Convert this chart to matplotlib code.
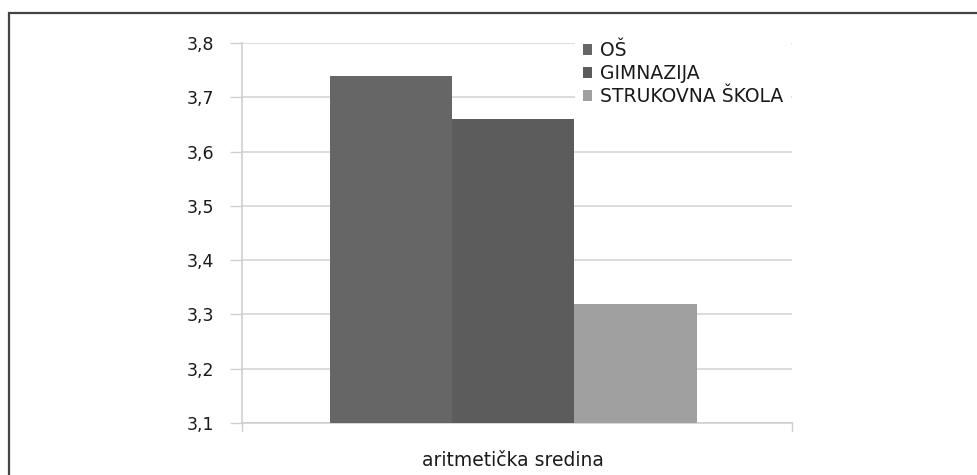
import matplotlib.pyplot as plt
from matplotlib.patches import Rectangle

# podaci
categories = ["aritmetička sredina"]
series = ["OŠ", "GIMNAZIJA", "STRUKOVNA ŠKOLA"]
values = [3.74, 3.66, 3.32]
colors = ["#666666", "#5c5c5c", "#a0a0a0"]
yticks = [3.1, 3.2, 3.3, 3.4, 3.5, 3.6, 3.7, 3.8]

plt.rcParams["font.family"] = ["DejaVu Sans"]

fig = plt.figure(figsize=(9.78, 4.75), dpi=100)
W, H = 978, 475
ax = fig.add_axes([242 / W, 1 - 423 / H, 550 / W, 380 / H])

offsets = [-1, 0, 1]
for off, name, val, col in zip(offsets, series, values, colors):
    ax.bar(off, val - 3.1, bottom=3.1, width=1.0, color=col, label=name, zorder=3)

ax.set_ylim(3.1, 3.8)
ax.set_xlim(-2.22, 2.28)
ax.set_yticks(yticks)
ax.set_yticklabels([f"{t:.1f}".replace(".", ",") for t in yticks], fontsize=12.5, color="#1a1a1a")
ax.yaxis.grid(True, color="#d6d6d6", linewidth=1.2, zorder=0)
ax.tick_params(axis="y", length=9, width=1, color="#cfcfcf", pad=11)

# oznaka kategorije ispod osi
ax.set_xticks([])
ax.text(0.0, -0.1, categories[0], transform=ax.get_xaxis_transform(), ha="center", va="center",
        fontsize=13.5, color="#1a1a1a")
for xe in ax.get_xlim():
    ax.plot([xe, xe], [0, -0.02], transform=ax.get_xaxis_transform(), color="#cfcfcf",
            lw=1, clip_on=False)

for s in ["top", "right"]:
    ax.spines[s].set_visible(False)
ax.spines["left"].set_color("#cfcfcf")
ax.spines["bottom"].set_color("#cfcfcf")
ax.spines["left"].set_linewidth(1.2)
ax.spines["bottom"].set_linewidth(1.2)

leg = ax.legend(loc="upper left", bbox_to_anchor=(575 / W, 1 - 33 / H), bbox_transform=fig.transFigure,
                frameon=True, facecolor="white", edgecolor="none", fancybox=False, framealpha=1,
                handlelength=0.5, handleheight=0.5, handletextpad=0.4, labelspacing=0.21,
                borderpad=0.43, borderaxespad=0, fontsize=13.5)
for t in leg.get_texts():
    t.set_color("#1a1a1a")
leg.set_zorder(5)

# okvir oko grafikona
fig.add_artist(Rectangle((9 / W, -0.1), 1.2, 1.1 - 13 / H, transform=fig.transFigure,
                         fill=False, edgecolor="#444444", linewidth=1.6))

plt.savefig("out.png", dpi=100)
